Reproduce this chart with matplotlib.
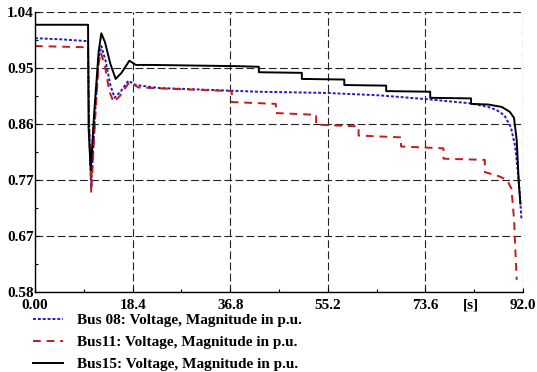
import numpy as np
import matplotlib
matplotlib.use("Agg")
import matplotlib.pyplot as plt
from matplotlib.ticker import MultipleLocator, FixedLocator

plt.rcParams['font.family'] = ['Liberation Serif', 'DejaVu Serif']
plt.rcParams['font.weight'] = 'bold'

# Bus 08 voltage (p.u.)
t08 = [0, 5, 10.0, 10.2, 10.6, 11.3, 12.0, 12.5, 13.3, 14.2, 15.0, 16.2, 17.6, 19,
       23.5, 30, 42, 55, 65, 73.5, 82, 85.4, 87, 88.5, 89.7, 90.5, 91.0, 91.4, 91.7]
v08 = [0.997, 0.995, 0.992, 0.86, 0.752, 0.87, 0.965, 0.984, 0.96, 0.92, 0.899, 0.91,
       0.927, 0.92, 0.915, 0.913, 0.909, 0.907, 0.903, 0.897, 0.890, 0.884, 0.879,
       0.870, 0.851, 0.82, 0.78, 0.74, 0.70]

# Bus11 voltage (p.u.)
t11 = [0, 10.0, 10.2, 10.6, 11.3, 12.0, 12.4, 13.2, 14.0, 14.8, 16.0, 17.8, 19.5, 25,
       37.1, 37.1, 45.4, 45.4, 53, 53, 61, 61, 69, 69, 77, 77, 84.8, 84.8, 87.5,
       89.0, 89.8, 90.3, 90.6, 90.8]
v11 = [0.984, 0.982, 0.85, 0.743, 0.86, 0.955, 0.974, 0.95, 0.91, 0.892, 0.902, 0.925,
       0.916, 0.914, 0.910, 0.892, 0.889, 0.874, 0.871, 0.855, 0.852, 0.837, 0.834,
       0.819, 0.816, 0.799, 0.797, 0.777, 0.770, 0.764, 0.75, 0.70, 0.64, 0.60]

# Bus15 voltage (p.u.)
t15 = [0, 10.0, 10.1, 10.5, 11.2, 12.0, 12.5, 13.2, 14.2, 15.2, 16.3, 17.8, 19.0, 22,
       30, 38, 42.2, 42.2, 50.3, 50.3, 58.3, 58.3, 66.2, 66.2, 74.5, 74.5, 82.2,
       82.2, 85.4, 88, 89.5, 90.3, 90.8, 91.2, 91.5]
v15 = [1.019, 1.019, 0.85, 0.78, 0.88, 0.975, 1.005, 0.99, 0.955, 0.93, 0.94, 0.96,
       0.953, 0.953, 0.952, 0.951, 0.950, 0.941, 0.940, 0.930, 0.929, 0.920, 0.919,
       0.910, 0.909, 0.899, 0.898, 0.889, 0.888, 0.884, 0.876, 0.866, 0.83, 0.76, 0.725]

xticks = [0, 18.4, 36.8, 55.2, 73.6, 92.0]
xlabels = ['0.00', '18.4', '36.8', '55.2', '73.6', '92.0']
yticks = [0.58, 0.672, 0.764, 0.856, 0.948, 1.04]
ylabels = ['0.58', '0.67', '0.77', '0.86', '0.95', '1.04']

fig = plt.figure(figsize=(5.37, 3.72), dpi=100)
ax = fig.add_axes([0.0652, 0.2151, 0.9088, 0.7527])

ax.plot(t08, v08, color='#1c1cc4', lw=1.4, ls=(0, (1.5, 1)),
        label='Bus 08: Voltage, Magnitude in p.u.')
ax.plot(t11, v11, color='#c41a1a', lw=1.4, ls=(0, (4, 3)),
        label='Bus11: Voltage, Magnitude in p.u.')
ax.plot(t15, v15, color='black', lw=1.4, label='Bus15: Voltage, Magnitude in p.u.')

ax.set_xlim(0, 92)
ax.set_ylim(0.58, 1.04)
ax.set_xticks(xticks)
ax.set_xticklabels(xlabels)
ax.set_yticks(yticks)
ax.set_yticklabels(ylabels)
ax.xaxis.set_minor_locator(MultipleLocator(9.2))
ax.yaxis.set_minor_locator(FixedLocator(np.arange(0.626, 1.04, 0.092)))
ax.tick_params(which='both', direction='in', labelsize=11, width=0.8)
ax.tick_params(which='major', length=3)
ax.tick_params(which='minor', length=2)
ax.tick_params(axis='y', pad=1)
ax.tick_params(axis='x', pad=5)

ax.grid(True, which='major', color='#222222', lw=0.8, ls=(0, (7, 3)))
ax.spines['top'].set_visible(False)
ax.spines['right'].set_visible(False)
ax.spines['left'].set_linewidth(1.0)
ax.spines['bottom'].set_linewidth(1.0)

ax.annotate('[s]', xy=(82.2, 0), xycoords=ax.get_xaxis_transform(),
            xytext=(0, -5), textcoords='offset points', ha='center', va='top',
            fontsize=11, fontweight='bold')

fig.legend(loc='upper left', bbox_to_anchor=(0.061, 0.157), frameon=False,
           fontsize=11, handlelength=2.0, handletextpad=0.9, labelspacing=0.55,
           borderpad=0, borderaxespad=0)

fig.savefig('out.png', dpi=100)
